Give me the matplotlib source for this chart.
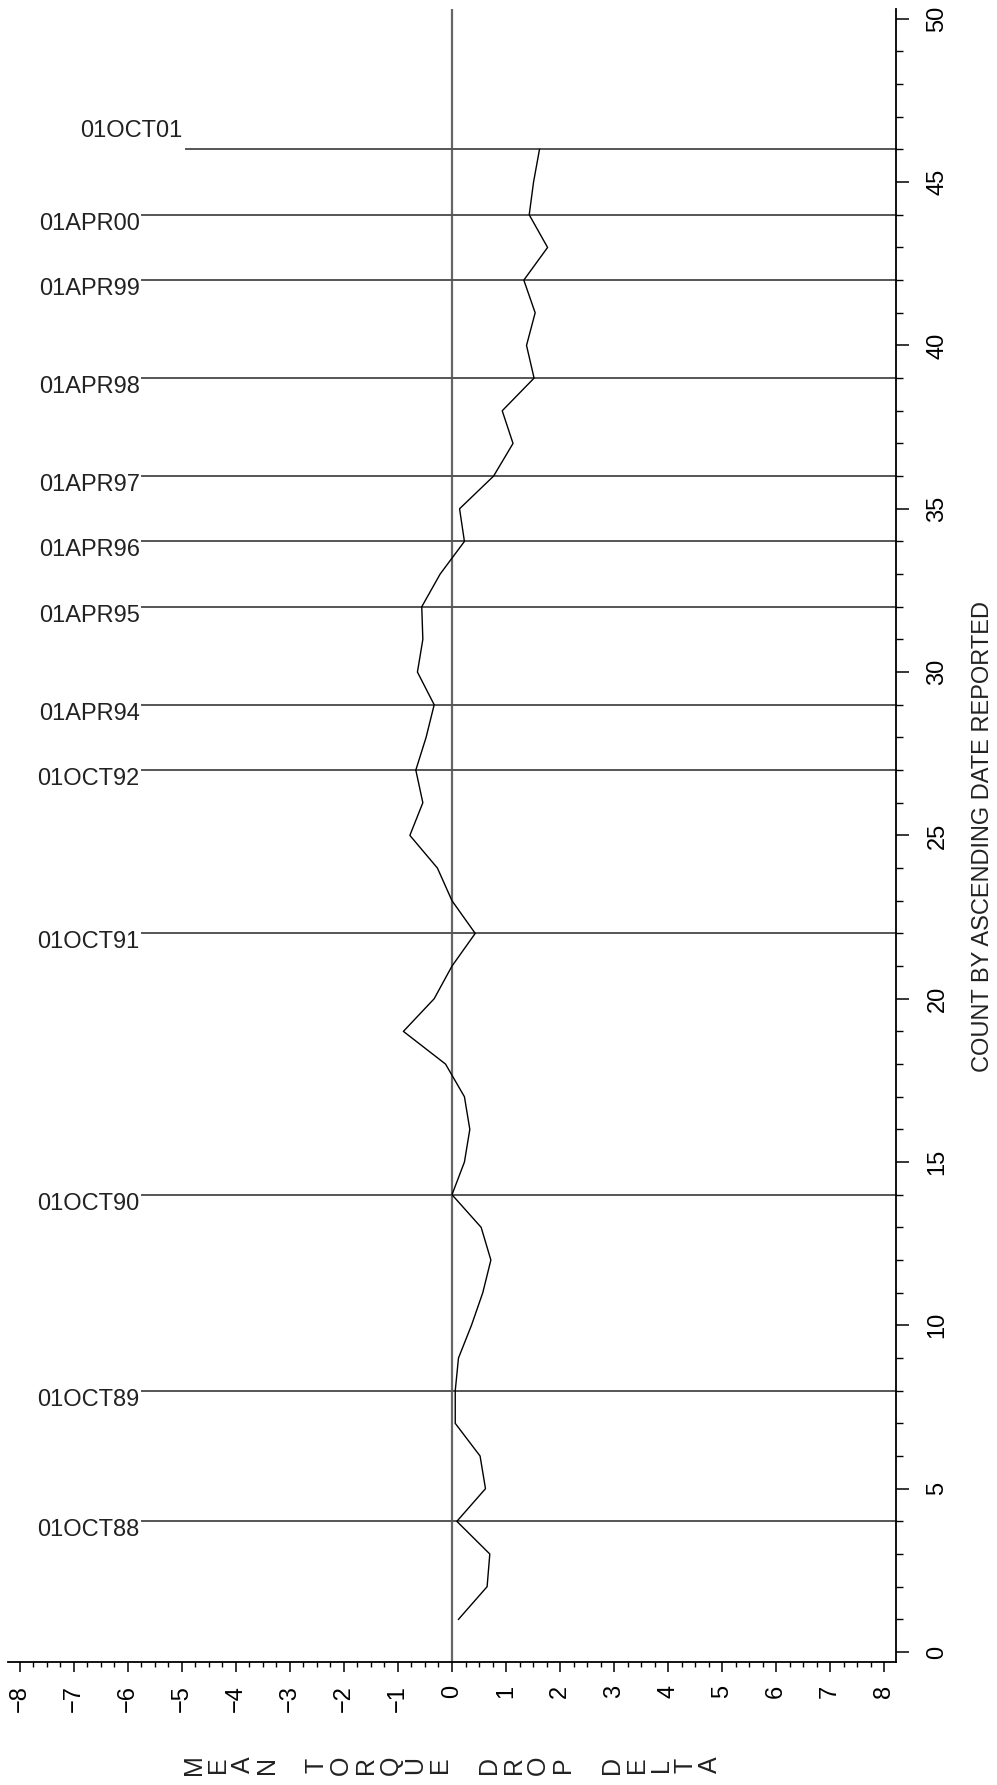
import numpy as np
import matplotlib
matplotlib.use("Agg")
import matplotlib.pyplot as plt
from matplotlib.ticker import MultipleLocator
import matplotlib.transforms as mtransforms

plt.rcParams['font.family'] = ['Liberation Sans', 'DejaVu Sans']

# mean torque drop delta per report, count 1..46
count = np.arange(1, 47)
delta = [0.12, 0.65, 0.70, 0.09, 0.62, 0.52, 0.06, 0.06, 0.12, 0.36,
         0.57, 0.72, 0.54, 0.00, 0.23, 0.33, 0.23, -0.12, -0.90, -0.33,
         0.00, 0.43, 0.00, -0.27, -0.78, -0.54, -0.67, -0.48, -0.33, -0.64,
         -0.54, -0.56, -0.22, 0.23, 0.14, 0.77, 1.13, 0.93, 1.52, 1.38,
         1.54, 1.33, 1.77, 1.43, 1.51, 1.62]

# reporting date markers
ref_counts = [46, 44, 42, 39, 36, 34, 32, 29, 27, 22, 14, 8, 4]
ref_labels = ["01OCT01", "01APR00", "01APR99", "01APR98", "01APR97",
              "01APR96", "01APR95", "01APR94", "01OCT92", "01OCT91",
              "01OCT90", "01OCT89", "01OCT88"]

xlabel = "MEAN TORQUE DROP DELTA"
ylabel = "COUNT BY ASCENDING DATE REPORTED"

W, H = 997, 1785
fig = plt.figure(figsize=(W / 100, H / 100), dpi=100)
ax = fig.add_axes([8 / W, 1 - 1662 / H, (896 - 8) / W, (1662 - 9) / H])
ax.set_xlim(-8.222, 8.222)
ax.set_ylim(-0.306, 50.3)

for s in ["top", "left"]:
    ax.spines[s].set_visible(False)
for s in ["bottom", "right"]:
    ax.spines[s].set_linewidth(1.3)

ax.yaxis.tick_right()
ax.xaxis.set_major_locator(MultipleLocator(1))
ax.xaxis.set_minor_locator(MultipleLocator(0.25))
ax.yaxis.set_major_locator(MultipleLocator(5))
ax.yaxis.set_minor_locator(MultipleLocator(1))
ax.tick_params(axis="x", which="major", direction="out", length=7.5, width=1.1,
               labelsize=17, pad=9, labelrotation=90)
ax.tick_params(axis="x", which="minor", direction="out", length=3.8, width=1.0)
ax.tick_params(axis="y", which="major", direction="out", length=9, width=1.1,
               labelsize=17, pad=13, labelrotation=90)
ax.tick_params(axis="y", which="minor", direction="out", length=5, width=1.0)
for lab in ax.get_yticklabels():
    lab.set_va("center")

# zero reference
ax.axvline(0, color="#666666", lw=1.6, zorder=1)

# date reference lines and labels
for c, lab in zip(ref_counts, ref_labels):
    if lab == "01OCT01":
        x0 = -4.93
        ax.text(-5.0, c + 0.37, lab, ha="right", va="baseline", fontsize=17, color="#222222")
    else:
        x0 = -5.74
        ax.text(-5.78, c - 0.46, lab, ha="right", va="baseline", fontsize=17, color="#222222")
    ax.plot([x0, 8.222], [c, c], color="#555555", lw=1.4, zorder=1, clip_on=False)

ax.plot(delta, count, color="black", lw=1.0, zorder=3)

# x label: each letter rotated, laid out across the axis
trans = mtransforms.blended_transform_factory(ax.transData, fig.transFigure)
step = 24.6 / 54.0
n = len(xlabel)
for i, ch in enumerate(xlabel):
    if ch == " ":
        continue
    ax.text((i - (n - 1) / 2) * step, 1 - 1765 / H, ch, transform=trans,
            rotation=90, ha="center", va="center", fontsize=18, color="#222222")

fig.text(983 / W, 1 - 837 / H, ylabel, rotation=90, ha="center", va="center",
         fontsize=17, color="#222222")

fig.savefig("out.png", dpi=100)
